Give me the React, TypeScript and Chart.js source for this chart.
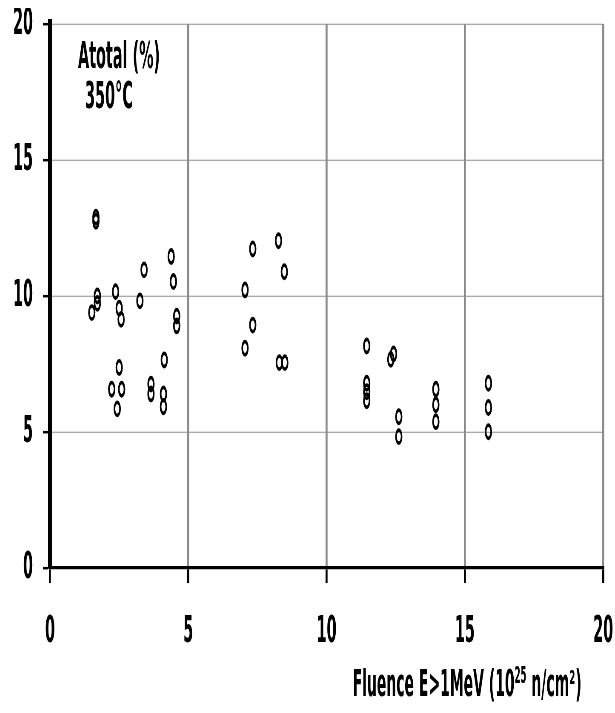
import { useEffect, useRef } from "react";
import { Chart, registerables } from "chart.js";

Chart.register(...registerables);

// Fluence E>1MeV (10^25 n/cm2)
const fluence = [
  1.66, 1.66, 4.38, 3.4, 4.46, 2.37, 1.71, 1.71, 3.25, 1.51, 2.5, 2.57, 4.58, 4.58,
  2.5, 4.13, 2.23, 2.59, 3.65, 3.65, 4.1, 4.1, 2.43,
  7.33, 8.26, 8.47, 7.05, 7.33, 7.05, 8.29, 8.49,
  11.45, 12.32, 12.42, 11.45, 11.45, 11.45, 12.61, 12.61,
  13.95, 13.95, 13.95, 15.85, 15.85, 15.85,
];
// Atotal (%)
const atotal = [
  12.9, 12.75, 11.45, 10.96, 10.53, 10.16, 10.0, 9.73, 9.82, 9.39, 9.55, 9.14, 9.26, 8.9,
  7.37, 7.65, 6.57, 6.57, 6.76, 6.4, 6.4, 5.93, 5.85,
  11.73, 12.03, 10.89, 10.22, 8.93, 8.08, 7.55, 7.55,
  8.16, 7.67, 7.87, 6.79, 6.48, 6.15, 5.56, 4.83,
  6.57, 6.0, 5.38, 6.79, 5.9, 5.01,
];
const axisMin = 0;
const axisMax = 20;
const tickStep = 5;
const noteLines = ["Atotal (%)", "350°C"];
const xTitleMain = "Fluence E>1MeV (10";
const xTitleSup = "25";
const xTitleEnd = " n/cm²)";

const FAMILY = "'Liberation Sans Narrow', 'Arial Narrow', 'DejaVu Sans Condensed', sans-serif";
const STRETCH = 2.35;
const CSS_W = 607;
const CSS_H = 705;
const LOG_H = CSS_H / STRETCH; // 300

const annotate = {
  id: "annotate",
  afterDraw(chart: any) {
    const { ctx, chartArea } = chart;
    ctx.save();
    ctx.fillStyle = "#000";
    ctx.textAlign = "left";
    ctx.textBaseline = "middle";
    ctx.font = `bold 16px ${FAMILY}`;
    ctx.fillText(noteLines[0], chartArea.left + 28, chartArea.top + 14.7);
    ctx.fillText(noteLines[1], chartArea.left + 35, chartArea.top + 31.5);

    ctx.textBaseline = "alphabetic";
    const mainFont = `bold 15.5px ${FAMILY}`;
    const supFont = `bold 9.5px ${FAMILY}`;
    ctx.font = mainFont;
    const w1 = ctx.measureText(xTitleMain).width;
    const w3 = ctx.measureText(xTitleEnd).width;
    ctx.font = supFont;
    const w2 = ctx.measureText(xTitleSup).width;
    const total = w1 + w2 + w3;
    const cx = chartArea.left + 417;
    let x = cx - total / 2;
    const base = chartArea.bottom + 54.5;
    ctx.font = mainFont;
    ctx.fillText(xTitleMain, x, base);
    x += w1;
    ctx.font = supFont;
    ctx.fillText(xTitleSup, x, base - 5.5);
    x += w2;
    ctx.font = mainFont;
    ctx.fillText(xTitleEnd, x, base);
    ctx.restore();
  },
};

export default function App() {
  const ref = useRef<HTMLCanvasElement | null>(null);

  useEffect(() => {
    const canvas = ref.current;
    if (!canvas) return;
    const points = fluence.map((x, i) => ({ x, y: atotal[i] }));
    const tickFont = { family: FAMILY, size: 16, weight: "bold" as const };
    const chart = new Chart(canvas, {
      type: "scatter",
      data: {
        datasets: [
          {
            data: points,
            pointStyle: "circle",
            pointRadius: 2.8,
            pointBorderWidth: 1.6,
            borderColor: "#000",
            backgroundColor: "rgba(0,0,0,0)",
            pointBackgroundColor: "rgba(0,0,0,0)",
          },
        ],
      },
      options: {
        animation: false,
        responsive: false,
        devicePixelRatio: STRETCH,
        layout: { padding: { top: 6.8, right: 12, bottom: 0, left: 0 } },
        plugins: { legend: { display: false }, tooltip: { enabled: false } },
        scales: {
          x: {
            type: "linear",
            min: axisMin,
            max: axisMax,
            ticks: { stepSize: tickStep, font: tickFont, color: "#000", padding: 11.2 },
            grid: {
              color: "#8c8c8c",
              lineWidth: 2,
              tickLength: 6.4,
              tickColor: "#000",
              tickWidth: 2,
            },
            border: { color: "#000", width: 1.4 },
            afterFit(scale: any) {
              scale.height = LOG_H - 238.3;
              scale.paddingLeft = 0;
              scale.paddingRight = 0;
            },
          },
          y: {
            type: "linear",
            min: axisMin,
            max: axisMax,
            ticks: { stepSize: tickStep, font: tickFont, color: "#000", padding: 10 },
            grid: {
              color: "#8c8c8c",
              lineWidth: 0.43,
              tickLength: 7,
              tickColor: "#000",
              tickWidth: 1.06,
            },
            border: { color: "#000", width: 4 },
            afterFit(scale: any) {
              scale.width = 42;
              scale.paddingTop = 0;
              scale.paddingBottom = 0;
            },
          },
        },
      },
      plugins: [annotate],
    });
    return () => chart.destroy();
  }, []);

  return (
    <canvas
      ref={ref}
      width={CSS_W}
      height={LOG_H}
      style={{
        position: "fixed",
        left: "8px",
        top: "8px",
        width: `${CSS_W}px`,
        height: `${CSS_H}px`,
        display: "block",
      }}
    />
  );
}
